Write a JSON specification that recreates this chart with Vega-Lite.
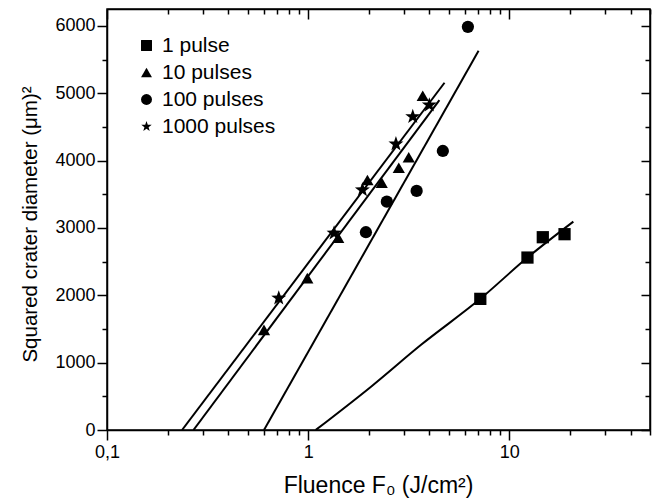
{
  "$schema": "https://vega.github.io/schema/vega-lite/v6.json",
  "width": 543,
  "height": 421,
  "autosize": "none",
  "padding": {"left": 107, "top": 9, "right": 2, "bottom": 70},
  "background": "white",
  "config": {
    "view": {"stroke": "black", "strokeWidth": 1.5},
    "font": "Liberation Sans",
    "axis": {"domainColor": "black", "domainWidth": 1.5, "tickColor": "black", "tickWidth": 1.5, "labelColor": "black", "titleColor": "black", "grid": false, "labelFont": "Liberation Sans", "titleFont": "Liberation Sans", "titleFontWeight": "normal"}
  },
  "datasets": {
    "points": [
      {"series": "1 pulse", "F": 7.17, "D2": 1947},
      {"series": "1 pulse", "F": 12.3, "D2": 2560},
      {"series": "1 pulse", "F": 14.66, "D2": 2862},
      {"series": "1 pulse", "F": 18.8, "D2": 2907},
      {"series": "10 pulses", "F": 0.603, "D2": 1487},
      {"series": "10 pulses", "F": 0.99, "D2": 2254},
      {"series": "10 pulses", "F": 1.41, "D2": 2856},
      {"series": "10 pulses", "F": 1.97, "D2": 3712},
      {"series": "10 pulses", "F": 2.32, "D2": 3672},
      {"series": "10 pulses", "F": 2.82, "D2": 3894},
      {"series": "10 pulses", "F": 3.16, "D2": 4049},
      {"series": "10 pulses", "F": 3.71, "D2": 4962},
      {"series": "100 pulses", "F": 1.936, "D2": 2936},
      {"series": "100 pulses", "F": 2.46, "D2": 3390},
      {"series": "100 pulses", "F": 3.46, "D2": 3549},
      {"series": "100 pulses", "F": 4.67, "D2": 4142},
      {"series": "100 pulses", "F": 6.22, "D2": 5985},
      {"series": "1000 pulses", "F": 0.714, "D2": 1958},
      {"series": "1000 pulses", "F": 1.345, "D2": 2922},
      {"series": "1000 pulses", "F": 1.86, "D2": 3564},
      {"series": "1000 pulses", "F": 2.73, "D2": 4246},
      {"series": "1000 pulses", "F": 3.31, "D2": 4651},
      {"series": "1000 pulses", "F": 4.0, "D2": 4824}
    ],
    "fits": [
      {"series": "1 pulse", "F": 1.09, "D2": 0},
      {"series": "1 pulse", "F": 2.06, "D2": 647},
      {"series": "1 pulse", "F": 3.64, "D2": 1265},
      {"series": "1 pulse", "F": 7.17, "D2": 1947},
      {"series": "1 pulse", "F": 12.3, "D2": 2560},
      {"series": "1 pulse", "F": 20.8, "D2": 3094},
      {"series": "10 pulses", "F": 0.269, "D2": 0},
      {"series": "10 pulses", "F": 4.49, "D2": 4898},
      {"series": "100 pulses", "F": 0.603, "D2": 0},
      {"series": "100 pulses", "F": 7.03, "D2": 5630},
      {"series": "1000 pulses", "F": 0.236, "D2": 0},
      {"series": "1000 pulses", "F": 4.76, "D2": 5155}
    ]
  },
  "resolve": {"axis": {"x": "independent", "y": "independent"}},
  "layer": [
    {
      "data": {"name": "fits"},
      "mark": {"type": "line", "color": "black", "strokeWidth": 2, "clip": true, "interpolate": "monotone"},
      "encoding": {
        "x": {"field": "F", "type": "quantitative", "scale": {"type": "log", "domain": [0.1, 50], "nice": false}, "axis": null},
        "y": {"field": "D2", "type": "quantitative", "scale": {"domain": [0, 6250], "nice": false}, "axis": null},
        "detail": {"field": "series"},
        "order": {"field": "F"}
      }
    },
    {
      "data": {"name": "points"},
      "transform": [{"filter": "datum.series != '1000 pulses'"}],
      "mark": {"type": "point", "filled": true, "color": "black", "opacity": 1, "size": 150},
      "encoding": {
        "x": {"field": "F", "type": "quantitative", "scale": {"type": "log", "domain": [0.1, 50], "nice": false},
          "axis": {"orient": "bottom", "values": [0.1,0.2,0.3,0.4,0.5,0.6,0.7,0.8,0.9,1,2,3,4,5,6,7,8,9,10,20,30,40,50],
            "labelExpr": "datum.value==0.1 ? '0,1' : (datum.value==1 ? '1' : (datum.value==10 ? '10' : ''))",
            "labelOverlap": false, "labelFlush": false, "labelFontSize": 18, "labelPadding": 3,
            "tickSize": {"condition": {"test": "datum.value==0.1 || datum.value==1 || datum.value==10", "value": 10}, "value": 5},
            "title": "Fluence F₀ (J/cm²)", "titleFontSize": 23, "titleX": 271, "titleY": 62, "titleBaseline": "alphabetic", "titleAlign": "center"}},
        "y": {"field": "D2", "type": "quantitative", "scale": {"domain": [0, 6250], "nice": false},
          "axis": {"orient": "left", "values": [0,500,1000,1500,2000,2500,3000,3500,4000,4500,5000,5500,6000],
            "labelExpr": "datum.value % 1000 == 0 ? format(datum.value, 'd') : ''",
            "labelOverlap": false, "labelFlush": false, "labelFontSize": 18, "labelPadding": 2,
            "tickSize": {"condition": {"test": "datum.value % 1000 == 0", "value": 10}, "value": 5},
            "title": "Squared crater diameter (μm)²", "titleFontSize": 20.5, "titleX": -71, "titleY": 215, "titleAngle": -90, "titleBaseline": "alphabetic", "titleAlign": "center"}},
        "shape": {"field": "series", "type": "nominal",
          "scale": {"domain": ["1 pulse", "10 pulses", "100 pulses", "1000 pulses"],
            "range": ["square", "triangle-up", "circle", "M0,-1L0.235,-0.324L0.951,-0.309L0.38,0.124L0.588,0.809L0,0.4L-0.588,0.809L-0.38,0.124L-0.951,-0.309L-0.235,-0.324Z"]},
          "legend": {"orient": "none", "legendX": 29, "legendY": 26, "title": null, "padding": 0, "symbolSize": 120, "symbolFillColor": "black", "symbolStrokeColor": "black", "symbolOpacity": 1, "labelFontSize": 21, "labelFont": "Liberation Sans", "labelColor": "black", "labelOffset": 5, "rowPadding": 5}}
      }
    },
    {
      "data": {"name": "points"},
      "transform": [{"filter": "datum.series == '1000 pulses'"}],
      "mark": {"type": "point", "filled": true, "color": "black", "opacity": 1, "size": 250},
      "encoding": {
        "x": {"field": "F", "type": "quantitative", "scale": {"type": "log", "domain": [0.1, 50], "nice": false}, "axis": null},
        "y": {"field": "D2", "type": "quantitative", "scale": {"domain": [0, 6250], "nice": false}, "axis": null},
        "shape": {"field": "series", "type": "nominal",
          "scale": {"domain": ["1 pulse", "10 pulses", "100 pulses", "1000 pulses"],
            "range": ["square", "triangle-up", "circle", "M0,-1L0.235,-0.324L0.951,-0.309L0.38,0.124L0.588,0.809L0,0.4L-0.588,0.809L-0.38,0.124L-0.951,-0.309L-0.235,-0.324Z"]},
          "legend": {"orient": "none", "legendX": 29, "legendY": 26, "title": null, "padding": 0, "symbolSize": 120, "symbolFillColor": "black", "symbolStrokeColor": "black", "symbolOpacity": 1, "labelFontSize": 21, "labelFont": "Liberation Sans", "labelColor": "black", "labelOffset": 5, "rowPadding": 5}}
      }
    },
    {
      "data": {"name": "points"},
      "mark": {"type": "point", "opacity": 0},
      "encoding": {
        "x": {"field": "F", "type": "quantitative", "scale": {"type": "log", "domain": [0.1, 50], "nice": false},
          "axis": {"orient": "top", "values": [0.1,0.2,0.3,0.4,0.5,0.6,0.7,0.8,0.9,1,2,3,4,5,6,7,8,9,10,20,30,40,50], "labels": false, "title": null,
            "tickSize": {"condition": {"test": "datum.value==0.1 || datum.value==1 || datum.value==10", "value": -10}, "value": -5}}},
        "y": {"field": "D2", "type": "quantitative", "scale": {"domain": [0, 6250], "nice": false},
          "axis": {"orient": "right", "values": [0,500,1000,1500,2000,2500,3000,3500,4000,4500,5000,5500,6000], "labels": false, "title": null,
            "tickSize": {"condition": {"test": "datum.value % 1000 == 0", "value": -9}, "value": -5}}}
      }
    },
    {
      "mark": {"type": "text", "text": "Femur", "font": "Liberation Sans", "fontSize": 20, "fontWeight": "bold", "align": "left", "baseline": "alphabetic", "color": "black"},
      "encoding": {
        "x": {"datum": 0.24, "type": "quantitative", "scale": {"type": "log", "domain": [0.1, 50], "nice": false}, "axis": null},
        "y": {"datum": 3386, "type": "quantitative", "scale": {"domain": [0, 6250], "nice": false}, "axis": null}
      }
    }
  ]
}
